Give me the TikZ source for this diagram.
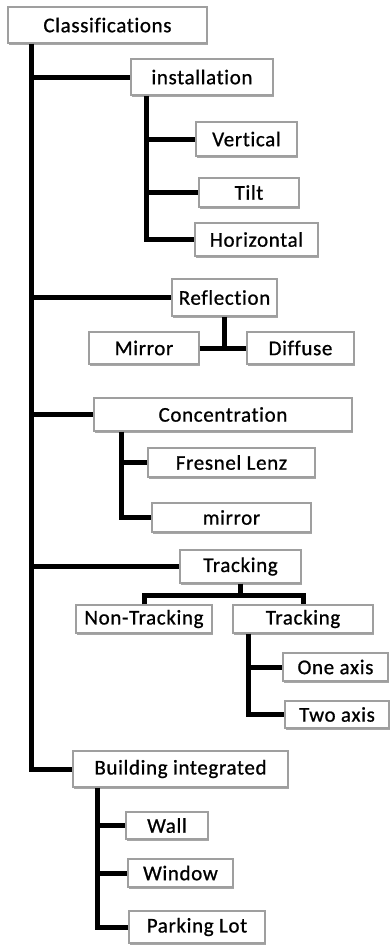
\documentclass[tikz,border=0pt]{standalone}
\usepackage{fontspec}
\setmainfont[Ligatures=NoCommon, LetterSpace=3, FakeBold=0.8]{Carlito}
\usetikzlibrary{shadows}
\begin{document}
\begin{tikzpicture}[x=1pt,y=-1pt,
  box/.style={draw=gray!75, line width=1.3pt, fill=white, inner sep=0pt,
    drop shadow={shadow xshift=1.2pt, shadow yshift=-1.6pt, fill=gray!70, opacity=1},
    font=\fontsize{21}{23}\selectfont},
  conn/.style={line width=5pt, black}]
\useasboundingbox (0,0) rectangle (390,945);
\newcommand{\bx}[6]{\node[box, minimum width=#4-#2, minimum height=#5-#3] (#1) at ({(#2+#4)/2},{(#3+#5)/2}) {#6};}
\bx{cls}{8}{7}{207}{43}{Classifications}
\bx{inst}{131}{59}{273}{95}{installation}
\bx{vert}{196}{122}{297}{156}{Vertical}
\bx{tilt}{199}{178}{299}{207}{Tilt}
\bx{hor}{195}{223}{318}{256}{Horizontal}
\bx{refl}{172}{279}{277}{316}{Reflection}
\bx{mir}{89}{332}{199}{364}{Mirror}
\bx{dif}{247}{332}{354}{364}{Diffuse}
\bx{conc}{94}{398}{352}{431}{Concentration}
\bx{fres}{148}{448}{315}{477}{Fresnel Lenz}
\bx{mir2}{152}{503}{311}{532}{mirror}
\bx{trk}{180}{550}{301}{583}{Tracking}
\bx{nt}{76}{605}{212}{633}{Non-Tracking}
\bx{tr2}{233}{605}{373}{633}{Tracking}
\bx{one}{283}{653}{388}{681}{One axis}
\bx{two}{285}{701}{389}{728}{Two axis}
\bx{bi}{73}{751}{288}{787}{Building integrated}
\bx{wall}{126}{812}{208}{839}{Wall}
\bx{win}{128}{859}{233}{887}{Window}
\bx{park}{129}{911}{265}{943}{Parking Lot}
\coordinate (tk) at (31,0);
\coordinate (sA) at (146,0);
\coordinate (sB) at (121,0);
\coordinate (sC) at (248,0);
\coordinate (sD) at (97,0);
\coordinate (bar) at (0,595);
\draw[conn] (cls.south -| tk) |- (bi.west);
\draw[conn] (tk |- inst.west) -- (inst.west);
\draw[conn] (tk |- refl.west) -- (refl.west);
\draw[conn] (tk |- conc.west) -- (conc.west);
\draw[conn] (tk |- trk.west) -- (trk.west);
\draw[conn] (inst.south -| sA) |- (hor.west);
\draw[conn] (sA |- vert.west) -- (vert.west);
\draw[conn] (sA |- tilt.west) -- (tilt.west);
\draw[conn] (refl.south) -- (refl.south |- mir.east);
\draw[conn] (mir.east) -- (dif.west);
\draw[conn] (conc.south -| sB) |- (mir2.west);
\draw[conn] (sB |- fres.west) -- (fres.west);
\draw[conn] (trk.south) -- (trk.south |- bar);
\draw[conn] (nt.north) -- (nt.north |- bar) -- (tr2.north |- bar) -- (tr2.north);
\draw[conn] (tr2.south -| sC) |- (two.west);
\draw[conn] (sC |- one.west) -- (one.west);
\draw[conn] (bi.south -| sD) |- (park.west);
\draw[conn] (sD |- wall.west) -- (wall.west);
\draw[conn] (sD |- win.west) -- (win.west);
\end{tikzpicture}
\end{document}
